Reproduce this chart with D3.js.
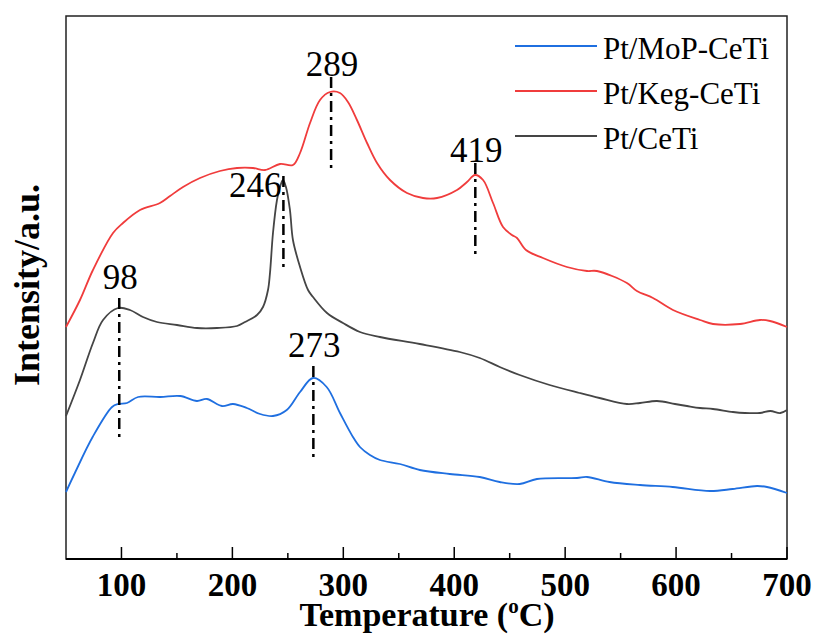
<!DOCTYPE html>
<html>
<head>
<meta charset="utf-8">
<script src="https://cdn.jsdelivr.net/npm/d3@7"></script>
<style>
  body { margin: 0; background: #fff; }
  svg { display: block; font-family: "Liberation Serif", "Times New Roman", serif; }
</style>
</head>
<body>
<div id="chart"></div>
<script>
// H2-TPR style curves (temperature in °C, intensity in a.u.)
const mopT = [50, 58, 74, 91.5, 97, 105, 115, 135, 153, 168, 177, 190.6, 200.6, 213, 225, 236.6, 249, 261, 272.7, 285, 297, 308.7, 315, 324, 333, 351, 369, 396, 423, 441, 459, 474.6, 510.7, 519.7, 540, 567.5, 597, 630.6, 651, 673, 682, 700];
const mopI = [67, 86, 122, 152, 155, 156, 162, 162, 163, 158, 160, 153, 155, 151, 145, 143, 149, 167, 181, 172, 146, 122, 112, 104, 99, 95, 89, 85, 82, 77, 75, 80, 81, 82, 77, 74, 72, 68, 70, 73, 72, 66];

const kegT = [50, 62.6, 74.3, 92.4, 101.4, 116.7, 134.7, 143.8, 155.5, 170.8, 188.8, 204.2, 218.6, 229.4, 242.9, 254.6, 261, 270, 279, 288, 297, 304.2, 312.3, 321.4, 330.4, 342.1, 357.4, 371.8, 384.5, 402.5, 411.5, 418.7, 426, 435, 444, 452, 456.6, 464.7, 480, 501.6, 519.7, 528.7, 555.7, 564.7, 579.2, 597.2, 621.6, 633.3, 657.6, 675.6, 684.7, 700];
const kegI = [232, 259, 289, 326, 336, 349, 356, 363, 372, 381, 388, 391, 391, 389, 395, 394, 406, 436, 459, 467, 466, 457, 439, 416, 396, 379, 366, 361, 361, 369, 377, 384, 379, 356, 332, 324, 321, 309, 301, 292, 288, 288, 276, 268, 261, 249, 239, 235, 235, 239, 238, 232];

const ceT = [50, 62.6, 74.3, 83.4, 96.9, 107.7, 119.4, 132, 150, 168.1, 186.1, 204.2, 211.4, 222.2, 227.6, 232.1, 233.9, 236.6, 240.2, 242.9, 245.6, 248.3, 251.9, 254.6, 261, 268.2, 272.7, 285.3, 299.7, 315, 333, 369, 405, 423, 441, 459, 486, 513, 531, 555.7, 567.5, 582.8, 599, 609.8, 621.6, 633.3, 651.3, 662, 675.6, 685, 694, 700];
const ceI = [143, 179, 216, 239, 251, 249, 242, 237, 234, 231, 231, 233, 237, 244, 252, 269, 286, 326, 359, 372, 379, 372, 349, 319, 292, 269, 262, 246, 236, 227, 222, 215, 207, 201, 192, 184, 174, 166, 161, 155, 156, 158, 155, 153, 151, 150, 147, 146, 146, 148, 146, 149];

const seriesNames = ['Pt/MoP-CeTi', 'Pt/Keg-CeTi', 'Pt/CeTi'];
const seriesColors = ['#1f6fe0', '#f03c3c', '#454545'];

// peak markers: temperature, top and bottom of the dash-dot line (a.u.)
const peakT = [98, 246, 273, 289, 419];
const peakTop = [261, 383, 193, 482, 396];
const peakBottom = [121, 292, 102, 390, 305];

const xTicks = [100, 200, 300, 400, 500, 600, 700];
const xMinorTicks = [150, 250, 350, 450, 550, 650];

const W = 815, H = 634;
const margin = { left: 66, right: 28, top: 16, bottom: 75 };
const svg = d3.select('#chart').append('svg').attr('width', W).attr('height', H);

const x = d3.scaleLinear().domain([50, 700]).range([margin.left, W - margin.right]);
const y = d3.scaleLinear().domain([0, 543]).range([H - margin.bottom, margin.top]);

const line = d3.line().x(d => x(d[0])).y(d => y(d[1])).curve(d3.curveCatmullRom.alpha(0.5));
const series = [
  d3.zip(mopT, mopI),
  d3.zip(kegT, kegI),
  d3.zip(ceT, ceI)
];

// frame
svg.append('rect')
  .attr('x', x(50)).attr('y', y(543))
  .attr('width', x(700) - x(50)).attr('height', y(0) - y(543))
  .attr('fill', 'none').attr('stroke', '#222').attr('stroke-width', 1.5);

// curves
series.forEach((s, i) => {
  svg.append('path')
    .datum(s)
    .attr('fill', 'none')
    .attr('stroke', seriesColors[i])
    .attr('stroke-width', 1.8)
    .attr('d', line);
});

// x axis (ticks point inward)
const xAxis = svg.append('g').attr('transform', `translate(0,${y(0)})`);
xAxis.append('line').attr('x1', x(50)).attr('x2', x(700)).attr('stroke', '#000').attr('stroke-width', 2);
xAxis.selectAll('.maj').data(xTicks).join('line')
  .attr('x1', d => x(d)).attr('x2', d => x(d)).attr('y1', 0).attr('y2', -12)
  .attr('stroke', '#000').attr('stroke-width', 1.5);
xAxis.selectAll('.min').data(xMinorTicks).join('line')
  .attr('x1', d => x(d)).attr('x2', d => x(d)).attr('y1', 0).attr('y2', -6)
  .attr('stroke', '#000').attr('stroke-width', 1.5);
xAxis.selectAll('text').data(xTicks).join('text')
  .attr('x', d => x(d)).attr('y', 37)
  .attr('text-anchor', 'middle')
  .attr('font-size', 33).attr('font-weight', 'bold')
  .text(d => d);

// axis titles
const xt = svg.append('text')
  .attr('x', 427).attr('y', 626)
  .attr('text-anchor', 'middle')
  .attr('font-size', 34).attr('font-weight', 'bold');
xt.append('tspan').text('Temperature (');
xt.append('tspan').attr('font-size', 21).attr('dy', -13).text('o');
xt.append('tspan').attr('dy', 13).text('C)');

svg.append('text')
  .attr('transform', 'translate(39,285) rotate(-90)')
  .attr('text-anchor', 'middle')
  .attr('font-size', 36).attr('font-weight', 'bold')
  .text('Intensity/a.u.');

// peak markers
peakT.forEach((t, i) => {
  svg.append('line')
    .attr('x1', x(t)).attr('x2', x(t))
    .attr('y1', y(peakTop[i])).attr('y2', y(peakBottom[i]))
    .attr('stroke', '#000').attr('stroke-width', 2.5)
    .attr('stroke-dasharray', '11,5,3,5');
  const lbl = svg.append('text')
    .attr('font-size', 35)
    .text(t);
  if (t === 246) {
    lbl.attr('x', x(t) - 2).attr('y', y(peakTop[i]) + 21).attr('text-anchor', 'end');
  } else {
    const off = (t === 98 || t === 273) ? -9 : -1;
    lbl.attr('x', x(t) + 1).attr('y', y(peakTop[i]) + off).attr('text-anchor', 'middle');
  }
});

// legend
const legend = svg.append('g');
seriesNames.forEach((name, i) => {
  const ly = 46 + i * 45;
  legend.append('line')
    .attr('x1', 515).attr('x2', 597).attr('y1', ly).attr('y2', ly)
    .attr('stroke', seriesColors[i]).attr('stroke-width', 2);
  legend.append('text')
    .attr('x', 603).attr('y', ly + 13)
    .attr('font-size', 31)
    .text(name);
});
</script>
</body>
</html>
